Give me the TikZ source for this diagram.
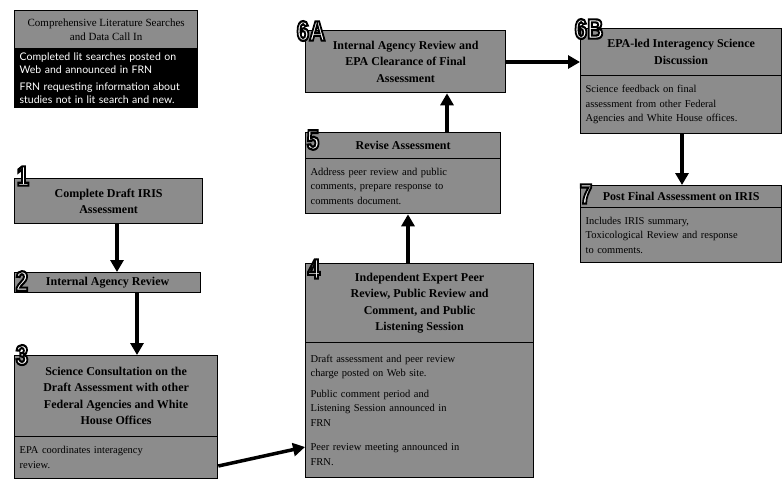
\documentclass[tikz,border=0pt]{standalone}
\usepackage{fontspec}
\setmainfont{Liberation Serif}
\newfontfamily\numfont{Liberation Sans}
\newfontfamily\optfont{Lato}
\usetikzlibrary{arrows.meta}
\definecolor{boxgray}{RGB}{140,140,140}
\newcommand{\numlbl}[1]{\scalebox{0.8}[1]{\special{pdf:literal direct 2 Tr 2.2 w 0 G}#1\special{pdf:literal direct 0 Tr}}}
\begin{document}
\begin{tikzpicture}[x=1pt,y=-1pt,
  hdr/.style={draw=black, line width=1.3pt, fill=boxgray, anchor=north west, align=center,
    font=\bfseries\fontsize{12}{16.5}\selectfont, inner sep=2pt},
  bdy/.style={draw=black, line width=1.3pt, fill=boxgray, anchor=north west, align=left,
    font=\fontsize{10.5}{14.5}\selectfont, inner xsep=5pt, inner ysep=3pt},
  arr/.style={line width=3.5pt, -{Triangle[width=13pt,length=12pt]}},
  num/.style={font=\numfont\bfseries\fontsize{28}{28}\selectfont, text=white, inner sep=0pt}]
\useasboundingbox[fill=white] (0,0) rectangle (783,479);

% top-left box
\node[hdr, minimum width=183pt, minimum height=38pt, font=\fontsize{11}{14}\selectfont] (lith) at (14,10)
  {Comprehensive Literature Searches\\and Data Call In};
\node[bdy, fill=black, text=white, text width=173pt, minimum height=59pt, font=\optfont\fontsize{10.5}{13}\selectfont] (litb) at (14,48)
  {Completed lit searches posted on\\Web and announced in FRN\\[4pt]FRN requesting information about\\studies not in lit search and new.};

% 1
\node[hdr, minimum width=188pt, minimum height=45pt] (b1) at (14,178) {Complete Draft IRIS\\Assessment};
% 2
\node[hdr, minimum width=186pt, minimum height=20pt] (b2) at (14,272) {Internal Agency Review};
% 3
\node[hdr, minimum width=203pt, minimum height=81pt] (b3h) at (14,355)
  {Science Consultation on the\\Draft Assessment with other\\Federal Agencies and White\\House Offices};
\node[bdy, text width=193pt, minimum height=42pt] (b3b) at (14,436) {EPA coordinates interagency\\review.};
% 4
\node[hdr, minimum width=228pt, minimum height=79pt] (b4h) at (305,263)
  {Independent Expert Peer\\Review, Public Review and\\Comment, and Public\\Listening Session};
\node[bdy, text width=218pt, minimum height=135pt] (b4b) at (305,342)
  {Draft assessment and peer review\\charge posted on Web site.\\[6pt]Public comment period and\\Listening Session announced in\\FRN\\[10pt]Peer review meeting announced in\\FRN.};
% 5
\node[hdr, minimum width=195pt, minimum height=26pt] (b5h) at (305,132) {Revise Assessment};
\node[bdy, text width=185pt, minimum height=55pt] (b5b) at (305,158)
  {Address peer review and public\\comments, prepare response to\\comments document.};
% 6A
\node[hdr, minimum width=200pt, minimum height=62pt] (b6a) at (305,30)
  {Internal Agency Review and\\EPA Clearance of Final\\Assessment};
% 6B
\node[hdr, minimum width=201pt, minimum height=47pt] (b6bh) at (580,28)
  {EPA-led Interagency Science\\Discussion};
\node[bdy, text width=191pt, minimum height=58pt] (b6bb) at (580,75)
  {Science feedback on final\\assessment from other Federal\\Agencies and White House offices.};
% 7
\node[hdr, minimum width=201pt, minimum height=22pt] (b7h) at (580,185) {Post Final Assessment on IRIS};
\node[bdy, text width=191pt, minimum height=55pt] (b7b) at (580,207)
  {Includes IRIS summary,\\Toxicological Review and response\\to comments.};

% numerals
\node[num] (n1) at (23,176) {\numlbl{1}};
\node[num] (n2) at (22,281) {\numlbl{2}};
\node[num] (n3) at (22,355) {\numlbl{3}};
\node[num] (n4) at (314,269) {\numlbl{4}};
\node[num] (n5) at (313,140) {\numlbl{5}};
\node[num] (n6a) at (311,31) {\numlbl{6A}};
\node[num] (n6b) at (589,29) {\numlbl{6B}};
\node[num] (n7) at (586,194) {\numlbl{7}};

% connectors
\coordinate (a12) at (117,0);
\coordinate (a23) at (137,0);
\coordinate (s34) at (0,466);
\coordinate (e34) at (0,447);
\coordinate (a45) at (408,0);
\coordinate (a56) at (447,0);
\coordinate (a66) at (0,62);
\coordinate (a67) at (682,0);
\draw[arr] (b1.south -| a12) -- (b2.north -| a12);
\draw[arr] (b2.south -| a23) -- (b3h.north -| a23);
\draw[arr] (b3b.east |- s34) -- (b4b.west |- e34);
\draw[arr] (b4h.north -| a45) -- (b5b.south -| a45);
\draw[arr] (b5h.north -| a56) -- (b6a.south -| a56);
\draw[arr] (b6a.east |- a66) -- (b6bh.west |- a66);
\draw[arr] (b6bb.south -| a67) -- (b7h.north -| a67);
\end{tikzpicture}
\end{document}
